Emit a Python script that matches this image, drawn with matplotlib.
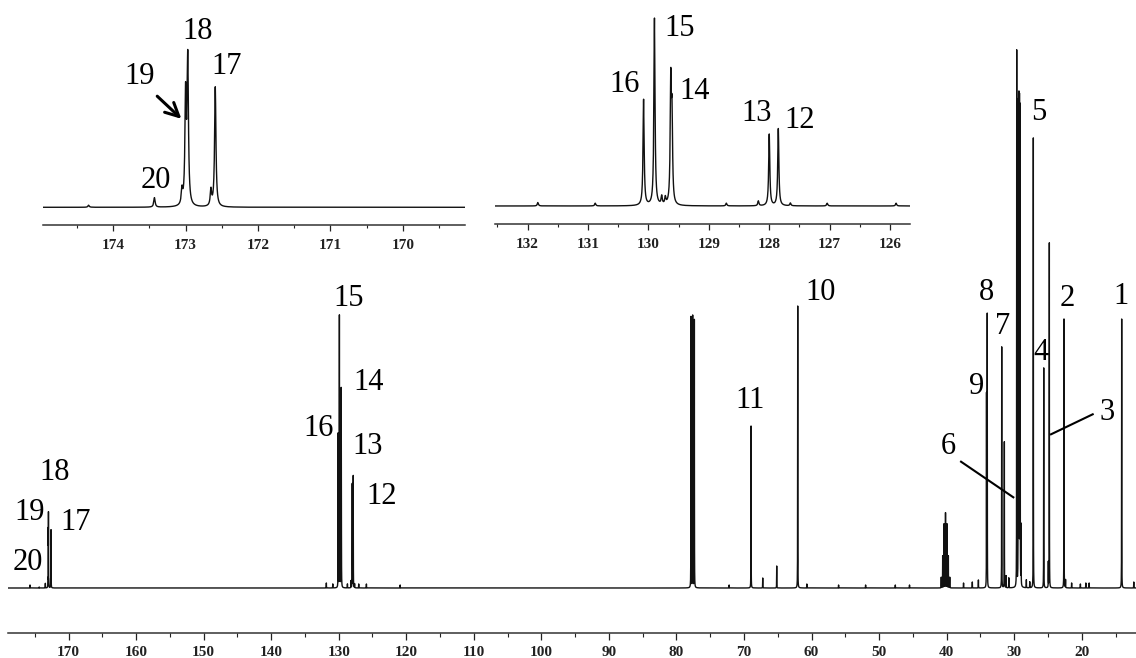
import numpy as np
import matplotlib
matplotlib.use("Agg")
import matplotlib.pyplot as plt
from matplotlib.ticker import MultipleLocator

# ---------------- data ----------------
# assigned carbon signals: chemical shift (ppm) and intensity (arbitrary units)
signal_ppm = [14.09, 22.63, 24.80, 25.63, 27.17, 29.63, 29.40, 29.30, 29.22, 29.12,
              28.98, 31.85, 31.46, 33.99, 34.10, 62.05, 68.96, 127.85, 128.00,
              129.63, 129.61, 129.90, 130.08, 172.59, 172.97, 173.00, 173.43]
signal_int = [269, 269, 345, 220, 450, 536, 480, 480, 478, 476,
              60, 241, 146, 273, 193, 282, 162, 112, 104,
              172, 120, 272, 154, 58, 70, 52, 4.6]

# solvent signals (CDCl3 triplet, DMSO-d6 septet)
cdcl3_ppm = [77.85, 77.60, 77.35]
cdcl3_int = [271, 272, 268]
dmso_ppm = [40.80, 40.59, 40.38, 40.17, 39.96, 39.75, 39.54]
dmso_int = [10.7, 32, 64, 75, 64, 32, 10.7]

# small impurity / baseline signals
minor_ppm = [175.7, 174.34, 173.05, 172.65, 131.83, 130.88, 129.78, 129.72, 128.71,
             128.18, 127.65, 127.04, 125.9, 120.9, 72.2, 67.23, 65.16, 60.7, 56.0,
             52.0, 47.6, 45.5, 37.5, 36.2, 35.3, 31.2, 30.8, 28.2, 27.7, 24.95,
             22.4, 21.5, 20.2, 19.4, 18.9, 12.3]
minor_int = [3, 1, 7, 7.7, 5, 4, 12, 10, 4,
             7, 4, 4, 4, 3, 3, 10, 22, 4, 3,
             3, 3, 3, 5, 6, 8, 12, 10, 8, 6, 25,
             8, 5, 4, 5, 5, 6]

# peak labels (carbon numbers)
carbon_labels = [str(i) for i in range(1, 21)]

# axis ticks
main_ticks = [170, 160, 150, 140, 130, 120, 110, 100, 90, 80, 70, 60, 50, 40, 30, 20]
inset1_ticks = [174, 173, 172, 171, 170]
inset2_ticks = [132, 131, 130, 129, 128, 127, 126]

# ---------------- layout ----------------
W, H = 1136, 658
fig = plt.figure(figsize=(W / 100, H / 100), dpi=100)
fig.patch.set_facecolor("white")


def px_axes(left, top, right, bottom):
    return fig.add_axes([left / W, 1 - bottom / H, (right - left) / W, (bottom - top) / H])


all_ppm = np.array(signal_ppm + cdcl3_ppm + dmso_ppm + minor_ppm)
all_int = np.array(signal_int + cdcl3_int + dmso_int + minor_int, dtype=float)
HW = 0.011


def spectrum(lo, hi, step):
    g = np.arange(lo, hi, step)
    inside = all_ppm[(all_ppm > lo) & (all_ppm < hi)]
    g = np.union1d(g, inside)
    y = np.zeros_like(g)
    for p, a in zip(all_ppm, all_int):
        if lo - 3 < p < hi + 3:
            y += a / (1 + ((g - p) / HW) ** 2)
    return g, y


serif = "Liberation Serif"
lab_kw = dict(fontsize=22, family=serif, ha="center", va="center", color="black")
tick_font = dict(family=serif, weight="bold", size=11)


def style_axis(ax, ticks, minor, pad, ln):
    for s in ("top", "right", "left"):
        ax.spines[s].set_visible(False)
    ax.spines["bottom"].set_linewidth(1.1)
    ax.spines["bottom"].set_color("#333333")
    ax.set_yticks([])
    ax.set_xticks(ticks)
    ax.set_xticklabels([str(t) for t in ticks], fontdict=tick_font)
    ax.xaxis.set_minor_locator(MultipleLocator(minor))
    ax.tick_params(axis="x", which="major", direction="out", length=ln, width=0.9,
                   pad=pad, colors="#222222")
    ax.tick_params(axis="x", which="minor", direction="out", length=ln * 0.6, width=0.8,
                   colors="#222222")
    ax.set_facecolor("none")


# ---------------- main spectrum ----------------
ax = px_axes(8, 0, 1136, 633)
g, y = spectrum(11.9, 179.0, 0.002)
ax.plot(g, y, color="#111111", lw=1.0)
ax.set_xlim(178.96, 11.97)
ax.set_ylim(-45, 588)
style_axis(ax, main_ticks, 5, 4, 5)

main_pos = [(14.19, 291), (22.22, 290), (16.3, 175), (26.08, 236), (26.43, 475),
            (39.76, 141), (31.7, 261), (34.07, 295), (35.55, 201), (58.6, 295),
            (69.1, 188), (123.6, 91), (125.77, 141), (125.6, 205), (128.58, 290),
            (133.0, 160), (169.0, 65), (172.0, 116), (175.7, 75), (176.0, 26)]
for t, (px, py) in zip(carbon_labels, main_pos):
    ax.text(px, py, t, **lab_kw)
ax.plot([37.87, 30.13], [126.3, 90.7], color="black", lw=1.5)
ax.plot([18.38, 24.55], [173.7, 153.7], color="black", lw=1.5)

# ---------------- inset 1: carbonyl region ----------------
ax1 = px_axes(43, 0, 465, 225)
g1, y1 = spectrum(169.0, 175.1, 0.0005)
ax1.plot(g1, y1, color="#111111", lw=1.0)
ax1.set_xlim(174.97, 169.14)
ax1.set_ylim(-8.57, 100.34)
style_axis(ax1, inset1_ticks, 0.5, 6, 4)
ins1_labels = {"18": (172.84, 84.9), "19": (173.63, 63.2), "17": (172.43, 68.0),
               "20": (173.41, 13.2)}
for t, (px, py) in ins1_labels.items():
    ax1.text(px, py, t, **lab_kw)
ax1.annotate("", xy=(173.03, 41.9), xytext=(173.42, 54.7),
             arrowprops=dict(arrowstyle="->", lw=2.2, color="black", mutation_scale=24))

# ---------------- inset 2: olefinic region ----------------
ax2 = px_axes(495, 0, 910, 224)
g2, y2 = spectrum(125.5, 132.7, 0.0005)
ax2.plot(g2, y2, color="#111111", lw=1.0)
ax2.set_xlim(132.54, 125.67)
ax2.set_ylim(-26.2, 299.4)
style_axis(ax2, inset2_ticks, 0.5, 6, 4)
ins2_labels = {"16": (130.39, 175.9), "15": (129.49, 258), "14": (129.24, 166),
               "13": (128.21, 134.7), "12": (127.50, 124)}
for t, (px, py) in ins2_labels.items():
    ax2.text(px, py, t, **lab_kw)

fig.savefig("out.png", dpi=100)
